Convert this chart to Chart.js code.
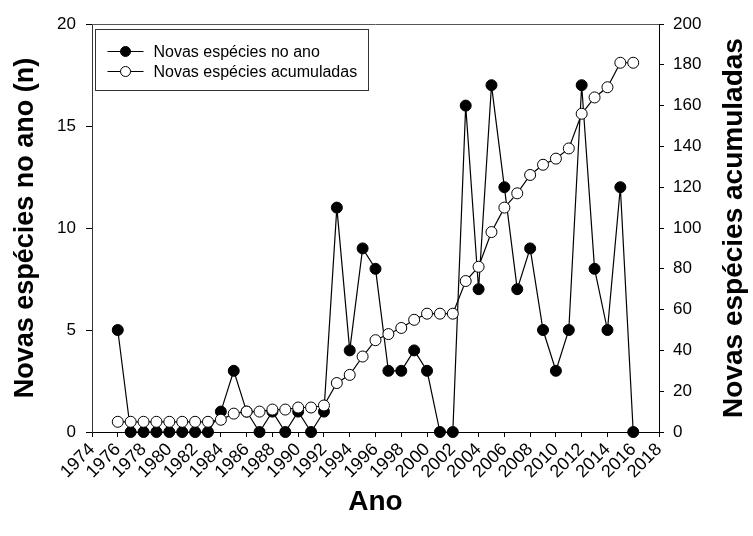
<!DOCTYPE html>
<html>
<head>
<meta charset="utf-8">
<script src="https://cdn.jsdelivr.net/npm/chart.js@4.4.1/dist/chart.umd.min.js"></script>
<style>
  html, body { margin: 0; padding: 0; background: #fff; }
  #wrap { width: 753px; height: 536px; }
</style>
</head>
<body>
<div id="wrap"><canvas id="speciesChart" width="753" height="536"></canvas></div>
<script>
// data
const years = [1976, 1977, 1978, 1979, 1980, 1981, 1982, 1983, 1984, 1985, 1986, 1987, 1988, 1989, 1990, 1991, 1992, 1993, 1994, 1995, 1996, 1997, 1998, 1999, 2000, 2001, 2002, 2003, 2004, 2005, 2006, 2007, 2008, 2009, 2010, 2011, 2012, 2013, 2014, 2015, 2016];
const newPerYear = [5, 0, 0, 0, 0, 0, 0, 0, 1, 3, 1, 0, 1, 0, 1, 0, 1, 11, 4, 9, 8, 3, 3, 4, 3, 0, 0, 16, 7, 17, 12, 7, 9, 5, 3, 5, 17, 8, 5, 12, 0];
const cumulative = [5, 5, 5, 5, 5, 5, 5, 5, 6, 9, 10, 10, 11, 11, 12, 12, 13, 24, 28, 37, 45, 48, 51, 55, 58, 58, 58, 74, 81, 98, 110, 117, 126, 131, 134, 139, 156, 164, 169, 181, 181];

const seriesLabels = ["Novas espécies no ano", "Novas espécies acumuladas"];
const xTitle = "Ano";
const yLeftTitle = "Novas espécies no ano (n)";
const yRightTitle = "Novas espécies acumuladas";

const FONT = "'Liberation Sans', Arial, sans-serif";

// legend box + right axis title + top frame line
const extras = {
  id: "extras",
  afterDraw(chart) {
    const ctx = chart.ctx;
    const area = chart.chartArea;
    ctx.save();

    // top frame
    ctx.strokeStyle = "#555";
    ctx.lineWidth = 1;
    ctx.beginPath();
    ctx.moveTo(area.left, area.top + 0.5);
    ctx.lineTo(area.right, area.top + 0.5);
    ctx.stroke();

    // legend
    const bx = area.left + 3.5, by = area.top + 5.5;
    ctx.strokeStyle = "#333";
    ctx.strokeRect(bx, by, 273, 61);
    ctx.font = "16px " + FONT;
    ctx.textBaseline = "middle";
    ctx.textAlign = "left";
    seriesLabels.forEach((lbl, i) => {
      const y = by + 22 + i * 20;
      ctx.strokeStyle = "#000";
      ctx.lineWidth = 1.2;
      ctx.beginPath();
      ctx.moveTo(bx + 12, y);
      ctx.lineTo(bx + 48, y);
      ctx.stroke();
      ctx.beginPath();
      ctx.arc(bx + 30, y, 5, 0, Math.PI * 2);
      ctx.fillStyle = i === 0 ? "#000" : "#fff";
      ctx.fill();
      ctx.lineWidth = 1;
      ctx.stroke();
      ctx.fillStyle = "#000";
      ctx.fillText(lbl, bx + 58, y + 1);
    });

    // right axis title, reading bottom to top
    ctx.translate(chart.width - 19, (area.top + area.bottom) / 2);
    ctx.rotate(-Math.PI / 2);
    ctx.font = "bold 28px " + FONT;
    ctx.textAlign = "center";
    ctx.textBaseline = "middle";
    ctx.fillStyle = "#000";
    ctx.fillText(yRightTitle, 0, 0);
    ctx.restore();
  }
};

const ctx = document.getElementById("speciesChart").getContext("2d");

new Chart(ctx, {
  type: "line",
  data: {
    datasets: [
      {
        label: seriesLabels[1],
        data: years.map((y, i) => ({ x: y, y: cumulative[i] })),
        yAxisID: "y1",
        borderColor: "#000",
        borderWidth: 1.2,
        pointRadius: 5.5,
        pointBackgroundColor: "#fff",
        pointBorderColor: "#000",
        pointBorderWidth: 1,
        tension: 0,
        clip: false,
        order: 0
      },
      {
        label: seriesLabels[0],
        data: years.map((y, i) => ({ x: y, y: newPerYear[i] })),
        yAxisID: "y",
        borderColor: "#000",
        borderWidth: 1.2,
        pointRadius: 5.5,
        pointBackgroundColor: "#000",
        pointBorderColor: "#000",
        pointBorderWidth: 1,
        tension: 0,
        clip: false,
        order: 1
      }
    ]
  },
  options: {
    responsive: false,
    animation: false,
    layout: { padding: { top: 24, left: 0, right: 0, bottom: 0 } },
    plugins: {
      legend: { display: false },
      tooltip: { enabled: false }
    },
    scales: {
      x: {
        type: "linear",
        position: "bottom",
        min: 1974,
        max: 2018,
        afterFit: (scale) => { scale.height = 104; },
        border: { display: true, color: "#000", width: 1 },
        grid: { drawOnChartArea: false, drawTicks: true, tickLength: 5, color: "#000" },
        ticks: {
          stepSize: 2,
          autoSkip: false,
          minRotation: 45,
          maxRotation: 45,
          padding: 2,
          color: "#000",
          font: { family: FONT, size: 18 },
          callback: (v) => String(v)
        },
        title: {
          display: true,
          text: xTitle,
          color: "#000",
          font: { family: FONT, size: 28, weight: "bold" },
          padding: { top: 0, bottom: 17 }
        }
      },
      y: {
        position: "left",
        min: 0,
        max: 20,
        afterFit: (scale) => { scale.width = 92; },
        border: { display: true, color: "#333", width: 1 },
        grid: { drawOnChartArea: false, drawTicks: true, tickLength: 6, color: "#000" },
        ticks: {
          stepSize: 5,
          padding: 10,
          color: "#000",
          font: { family: FONT, size: 17 }
        },
        title: {
          display: true,
          text: yLeftTitle,
          color: "#000",
          font: { family: FONT, size: 27, weight: "bold" },
          padding: { top: 9, bottom: 0 }
        }
      },
      y1: {
        position: "right",
        min: 0,
        max: 200,
        afterFit: (scale) => { scale.width = 94; },
        border: { display: true, color: "#000", width: 1 },
        grid: { drawOnChartArea: false, drawTicks: true, tickLength: 5, color: "#000" },
        ticks: {
          stepSize: 20,
          padding: 9,
          color: "#000",
          font: { family: FONT, size: 17 }
        }
      }
    }
  },
  plugins: [extras]
});
</script>
</body>
</html>
